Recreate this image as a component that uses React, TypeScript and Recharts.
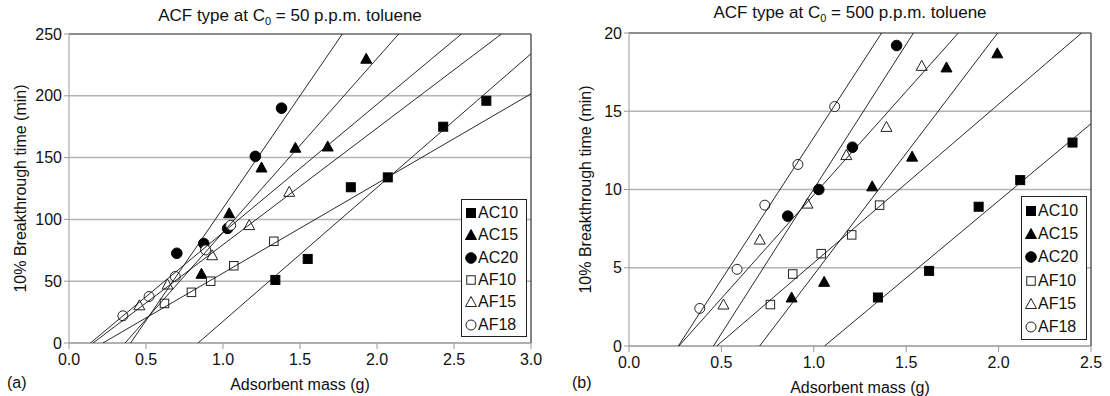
import React from 'react'
import { ScatterChart, Scatter, XAxis, YAxis, CartesianGrid, ReferenceLine, Label } from 'recharts'

type Pt = { x: number; y: number }

const seriesNames = ['AC10', 'AC15', 'AC20', 'AF10', 'AF15', 'AF18']

// (a) C0 = 50 p.p.m.
const aAC10: Pt[] = [{ x: 1.34, y: 51 }, { x: 1.55, y: 68 }, { x: 1.83, y: 126 }, { x: 2.07, y: 134 }, { x: 2.43, y: 175 }, { x: 2.71, y: 196 }]
const aAC15: Pt[] = [{ x: 0.86, y: 56 }, { x: 1.04, y: 105 }, { x: 1.25, y: 142 }, { x: 1.47, y: 158 }, { x: 1.68, y: 159 }, { x: 1.93, y: 230 }]
const aAC20: Pt[] = [{ x: 0.70, y: 72.6 }, { x: 0.875, y: 80.5 }, { x: 1.03, y: 92.7 }, { x: 1.21, y: 151 }, { x: 1.38, y: 190 }]
const aAF10: Pt[] = [{ x: 0.62, y: 32 }, { x: 0.795, y: 41 }, { x: 0.92, y: 50 }, { x: 1.07, y: 62.5 }, { x: 1.33, y: 82.3 }]
const aAF15: Pt[] = [{ x: 0.457, y: 30.5 }, { x: 0.64, y: 47.3 }, { x: 0.93, y: 71 }, { x: 1.17, y: 95.4 }, { x: 1.43, y: 122.3 }]
const aAF18: Pt[] = [{ x: 0.35, y: 22 }, { x: 0.52, y: 37.6 }, { x: 0.69, y: 53.8 }, { x: 0.887, y: 75.3 }, { x: 1.05, y: 95.2 }]

// fitted lines for (a), read as end points
const aFitAC10: Pt[] = [{ x: 0.838, y: 0 }, { x: 3.0, y: 234 }]
const aFitAC15: Pt[] = [{ x: 0.364, y: 0 }, { x: 2.141, y: 250 }]
const aFitAC20: Pt[] = [{ x: 0.40, y: 0 }, { x: 1.775, y: 250 }]
const aFitAF10: Pt[] = [{ x: 0.22, y: 0 }, { x: 3.0, y: 201.6 }]
const aFitAF15: Pt[] = [{ x: 0.156, y: 0 }, { x: 2.808, y: 250 }]
const aFitAF18: Pt[] = [{ x: 0.139, y: 0 }, { x: 2.548, y: 250 }]

// (b) C0 = 500 p.p.m.
const bAC10: Pt[] = [{ x: 1.347, y: 3.1 }, { x: 1.624, y: 4.8 }, { x: 1.892, y: 8.9 }, { x: 2.117, y: 10.6 }, { x: 2.40, y: 13.0 }]
const bAC15: Pt[] = [{ x: 0.88, y: 3.1 }, { x: 1.056, y: 4.1 }, { x: 1.316, y: 10.2 }, { x: 1.532, y: 12.1 }, { x: 1.718, y: 17.8 }, { x: 1.993, y: 18.7 }]
const bAC20: Pt[] = [{ x: 0.859, y: 8.3 }, { x: 1.027, y: 10.0 }, { x: 1.209, y: 12.7 }, { x: 1.448, y: 19.2 }]
const bAF10: Pt[] = [{ x: 0.765, y: 2.65 }, { x: 0.886, y: 4.6 }, { x: 1.04, y: 5.9 }, { x: 1.205, y: 7.1 }, { x: 1.356, y: 9.0 }]
const bAF15: Pt[] = [{ x: 0.511, y: 2.65 }, { x: 0.708, y: 6.8 }, { x: 0.966, y: 9.1 }, { x: 1.176, y: 12.2 }, { x: 1.393, y: 14.0 }, { x: 1.584, y: 17.9 }]
const bAF18: Pt[] = [{ x: 0.383, y: 2.4 }, { x: 0.585, y: 4.9 }, { x: 0.735, y: 9.0 }, { x: 0.914, y: 11.6 }, { x: 1.113, y: 15.3 }]

const bFitAC10: Pt[] = [{ x: 1.058, y: 0 }, { x: 2.5, y: 14.2 }]
const bFitAC15: Pt[] = [{ x: 0.707, y: 0 }, { x: 1.995, y: 20 }]
const bFitAC20: Pt[] = [{ x: 0.27, y: 0 }, { x: 1.782, y: 20 }]
const bFitAF10: Pt[] = [{ x: 0.475, y: 0 }, { x: 2.449, y: 20 }]
const bFitAF15: Pt[] = [{ x: 0.457, y: 0 }, { x: 1.539, y: 20 }]
const bFitAF18: Pt[] = [{ x: 0.267, y: 0 }, { x: 1.367, y: 20 }]

const aXTicks = [0, 0.5, 1.0, 1.5, 2.0, 2.5, 3.0]
const aYTicks = [0, 50, 100, 150, 200, 250]
const bXTicks = [0, 0.5, 1.0, 1.5, 2.0, 2.5]
const bYTicks = [0, 5, 10, 15, 20]

const FONT = '"Liberation Sans", Arial, sans-serif'

const markers: Record<string, { kind: 'square' | 'triangle' | 'circle'; filled: boolean }> = {
  AC10: { kind: 'square', filled: true },
  AC15: { kind: 'triangle', filled: true },
  AC20: { kind: 'circle', filled: true },
  AF10: { kind: 'square', filled: false },
  AF15: { kind: 'triangle', filled: false },
  AF18: { kind: 'circle', filled: false },
}

function Marker({ cx, cy, name }: { cx: number; cy: number; name: string }) {
  const m = markers[name]
  const fill = m.filled ? '#000' : '#fff'
  const stroke = m.filled ? '#000' : '#222'
  if (m.kind === 'square') {
    const s = m.filled ? 9 : 8.5
    return <rect x={cx - s / 2} y={cy - s / 2} width={s} height={s} fill={fill} stroke={stroke} strokeWidth={1} />
  }
  if (m.kind === 'triangle') {
    const h = 5.5
    return <polygon points={`${cx},${cy - h} ${cx + h},${cy + 4.5} ${cx - h},${cy + 4.5}`} fill={fill} stroke={stroke} strokeWidth={1} />
  }
  return <circle cx={cx} cy={cy} r={m.filled ? 5.3 : 5} fill={fill} stroke={stroke} strokeWidth={1} />
}

function LegendBox({ left, top, rowH }: { left: number; top: number; rowH: number }) {
  return (
    <div style={{
      position: 'absolute', left, top, width: 66, height: rowH * 6 + 4,
      border: '1.5px solid #222', background: '#fff', boxSizing: 'border-box',
      fontFamily: FONT, fontSize: 16, color: '#111',
    }}>
      {seriesNames.map((n, i) => (
        <div key={n} style={{ position: 'absolute', left: 3, top: 2 + i * rowH, height: rowH, display: 'flex', alignItems: 'center' }}>
          <svg width={12} height={12} style={{ marginRight: 1 }}>
            <Marker cx={6} cy={6} name={n} />
          </svg>
          <span>{n}</span>
        </div>
      ))}
    </div>
  )
}

interface PanelProps {
  series: Pt[][]
  fits: Pt[][]
  xMax: number
  yMax: number
  xTicks: number[]
  yTicks: number[]
  yAxisWidth: number
  xAxisHeight: number
  yLabelX: number
  margin: { top: number; right: number; bottom: number; left: number }
}

function Panel({ series, fits, xMax, yMax, xTicks, yTicks, yAxisWidth, xAxisHeight, yLabelX, margin }: PanelProps) {
  return (
    <ScatterChart width={555} height={396} margin={margin}>
      <CartesianGrid vertical={false} stroke="#b4b4b4" strokeWidth={1.5} />
      <XAxis
        type="number" dataKey="x" domain={[0, xMax]} ticks={xTicks} allowDataOverflow
        tickFormatter={(v: number) => v.toFixed(1)}
        height={xAxisHeight} tickSize={6} tickMargin={5}
        stroke="#999" tick={{ fill: '#111', fontSize: 16, fontFamily: FONT }}
      >
        <Label content={(p: any) => {
          const vb = p.viewBox || { x: 0, y: 0, width: 0 }
          return <text x={vb.x + vb.width / 2} y={vb.y + 41} textAnchor="middle" dominantBaseline="central"
            style={{ fontSize: 16, fontFamily: FONT, fill: '#111' }}>Adsorbent mass (g)</text>
        }} />
      </XAxis>
      <YAxis
        type="number" dataKey="y" domain={[0, yMax]} ticks={yTicks} allowDataOverflow
        width={yAxisWidth} tickSize={5} tickMargin={2}
        stroke="#999" tick={{ fill: '#111', fontSize: 16, fontFamily: FONT }}
      >
        <Label content={(p: any) => {
          const vb = p.viewBox || { x: 0, y: 0, height: 0 }
          const cx = vb.x + yLabelX
          const cy = vb.y + vb.height / 2
          return <text x={cx} y={cy} textAnchor="middle" dominantBaseline="central" transform={`rotate(-90 ${cx} ${cy})`}
            style={{ fontSize: 16, fontFamily: FONT, fill: '#111' }}>10% Breakthrough time (min)</text>
        }} />
      </YAxis>
      <ReferenceLine x={xMax} stroke="#333" strokeWidth={1.2} />
      <ReferenceLine y={yMax} stroke="#555" strokeWidth={1.2} />
      {series.map((d, i) => (
        <Scatter key={seriesNames[i]} data={d} isAnimationActive={false}
          shape={(p: any) => <Marker cx={p.cx} cy={p.cy} name={seriesNames[i]} />} />
      ))}
      {fits.map((d, i) => (
        <Scatter key={'fit' + seriesNames[i]} data={d} isAnimationActive={false}
          line={{ stroke: '#111', strokeWidth: 0.9 }} shape={() => <g />} />
      ))}
    </ScatterChart>
  )
}

function Title({ cx, top, ppm }: { cx: number; top: number; ppm: string }) {
  return (
    <div style={{ position: 'absolute', left: cx - 200, top, width: 400, textAlign: 'center', fontFamily: FONT, fontSize: 17, color: '#111', lineHeight: '20px' }}>
      ACF type at C<sub style={{ fontSize: 11, lineHeight: 0 }}>0</sub> = {ppm} p.p.m. toluene
    </div>
  )
}

export default function App() {
  return (
    <div style={{ position: 'absolute', left: 0, top: 0, width: 1110, height: 396, background: '#fff' }}>
      <div style={{ position: 'absolute', left: 0, top: 0 }}>
        <Panel
          series={[aAC10, aAC15, aAC20, aAF10, aAF15, aAF18]}
          fits={[aFitAC10, aFitAC15, aFitAC20, aFitAF10, aFitAF15, aFitAF18]}
          xMax={3} yMax={250} xTicks={aXTicks} yTicks={aYTicks}
          yAxisWidth={69} xAxisHeight={53} yLabelX={20}
          margin={{ top: 34, right: 24, bottom: 0, left: 0 }}
        />
      </div>
      <div style={{ position: 'absolute', left: 555, top: 0 }}>
        <Panel
          series={[bAC10, bAC15, bAC20, bAF10, bAF15, bAF18]}
          fits={[bFitAC10, bFitAC15, bFitAC20, bFitAF10, bFitAF15, bFitAF18]}
          xMax={2.5} yMax={20} xTicks={bXTicks} yTicks={bYTicks}
          yAxisWidth={74} xAxisHeight={50} yLabelX={30}
          margin={{ top: 33, right: 19, bottom: 0, left: 0 }}
        />
      </div>
      <Title cx={290} top={6} ppm="50" />
      <Title cx={850} top={3} ppm="500" />
      <LegendBox left={461} top={199} rowH={22.3} />
      <LegendBox left={1021} top={196} rowH={23.3} />
      <div style={{ position: 'absolute', left: 7, top: 374, fontFamily: FONT, fontSize: 16, color: '#111' }}>(a)</div>
      <div style={{ position: 'absolute', left: 572, top: 374, fontFamily: FONT, fontSize: 16, color: '#111' }}>(b)</div>
    </div>
  )
}
